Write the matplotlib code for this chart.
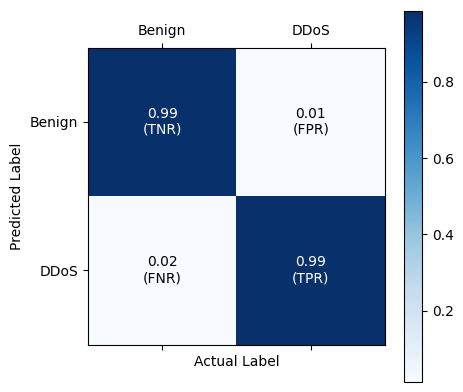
import matplotlib.pyplot as plt
import numpy as np

classes = ['Benign', 'DDoS']
rates = np.array([[0.986, 0.014],
                  [0.016, 0.986]])
rate_names = [['TNR', 'FPR'],
              ['FNR', 'TPR']]

fig = plt.figure(figsize=(4.64, 3.92), dpi=100)
ax = fig.add_axes([0.1897, 0.1199, 0.640, 0.760])
cax = fig.add_axes([0.8707, 0.0263, 0.0388, 0.9464])

im = ax.matshow(rates, cmap='Blues')
fig.colorbar(im, cax=cax)

ax.set_xticks(range(len(classes)))
ax.set_yticks(range(len(classes)))
ax.set_xticklabels(classes)
ax.set_yticklabels(classes)
ax.set_xlabel('Actual Label')
ax.set_ylabel('Predicted Label')

thresh = rates.max() / 2
for i in range(rates.shape[0]):
    for j in range(rates.shape[1]):
        color = 'white' if rates[i, j] > thresh else 'black'
        ax.text(j, i, f"{rates[i, j]:.2f}\n({rate_names[i][j]})",
                ha='center', va='center', color=color, fontsize=10)

fig.savefig('out.png', dpi=100)
